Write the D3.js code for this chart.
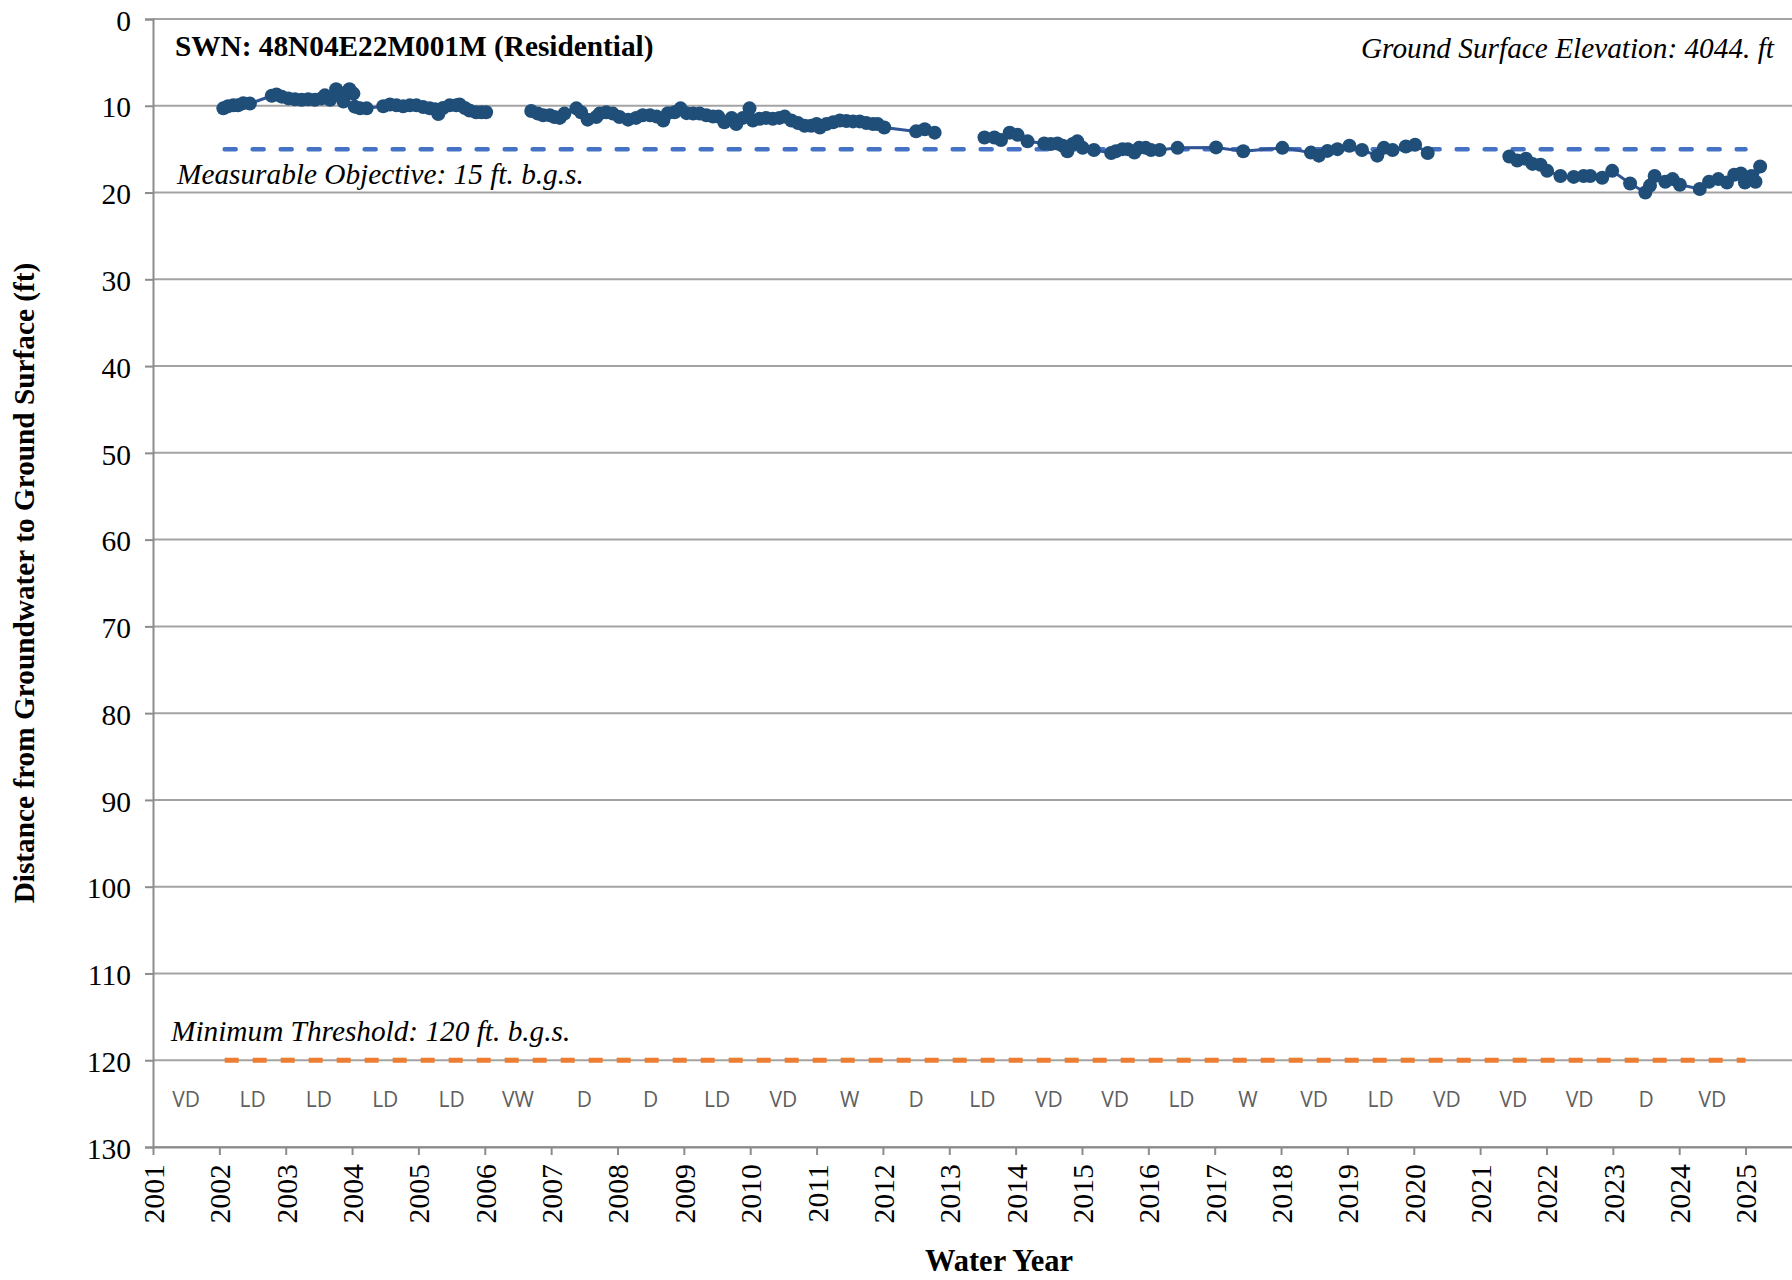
<!DOCTYPE html>
<html>
<head>
<meta charset="utf-8">
<script src="https://cdn.jsdelivr.net/npm/d3@7"></script>
<style>
  body { margin: 0; background: #fff; }
  svg { display: block; }
</style>
</head>
<body>
<svg id="chart"></svg>
<script>
// ---- data ----
const wellName = "SWN: 48N04E22M001M (Residential)"
const elevationNote = "Ground Surface Elevation: 4044. ft"
const moValue = 15
const mtValue = 120
const thresholdStart = 2002.08
const thresholdEnd = 2025.0

const yearTicks = [2001,2002,2003,2004,2005,2006,2007,2008,2009,2010,2011,2012,2013,2014,2015,2016,2017,2018,2019,2020,2021,2022,2023,2024,2025]
const depthTicks = [0,10,20,30,40,50,60,70,80,90,100,110,120,130]

// water year types, one per year starting 2001
const yearTypes = ["VD","LD","LD","LD","LD","VW","D","D","LD","VD","W","D","LD","VD","VD","LD","W","VD","LD","VD","VD","VD","D","VD"]

// measurement dates (decimal year) and depth to water (ft); null = gap in record
const obsYear = [
  2002.06,2002.13,2002.21,2002.28,2002.36,2002.46,2002.79,2002.86,2002.94,2003.04,
  2003.14,2003.24,2003.34,2003.44,2003.54,2003.59,2003.67,2003.76,2003.82,2003.87,
  2003.96,2004.02,2004.04,2004.12,2004.22,2004.47,2004.57,2004.67,2004.77,2004.87,
  2004.97,2005.07,2005.17,2005.25,2005.30,2005.37,2005.47,2005.57,2005.62,2005.70,
  2005.77,2005.87,2005.95,2006.02,2006.40,
  2006.70,2006.80,2006.88,2006.98,2007.05,2007.13,2007.20,2007.38,2007.45,2007.55,
  2007.68,2007.73,2007.83,2007.93,2008.03,2008.16,2008.28,2008.38,2008.49,2008.59,
  2008.69,2008.76,2008.86,2008.95,2009.04,2009.14,2009.24,2009.34,2009.44,2009.52,
  2009.61,2009.72,2009.79,2009.89,2009.99,2010.04,2010.14,2010.24,2010.34,2010.44,
  2010.52,2010.62,2010.72,2010.82,2010.92,2011.00,2011.05,2011.15,2011.25,2011.35,
  2011.45,2011.55,2011.65,2011.75,2011.85,2011.92,2012.02,2012.50,2012.63,2012.78,
  2013.10,
  2013.53,2013.68,2013.78,2013.91,2014.03,2014.18,2014.43,2014.53,2014.63,2014.71,
  2014.78,2014.86,2014.93,2015.01,2015.18,2015.44,2015.51,2015.61,2015.69,2015.79,
  2015.86,2015.96,2016.04,2016.17,2016.44,2017.02,2017.43,2018.02,2018.45,2018.57,
  2018.70,2018.85,2019.03,2019.22,2019.45,2019.55,2019.68,2019.88,2020.02,2020.21,
  2020.80,
  2021.44,2021.56,2021.69,2021.79,2021.91,2022.01,2022.21,2022.41,2022.56,2022.66,
  2022.84,2022.99,2023.26,2023.49,2023.56,2023.63,2023.79,2023.90,2024.01,2024.31,
  2024.45,2024.59,2024.72,2024.83,2024.93,2024.99,2025.09,2025.15,2025.22
]
const obsDepth = [
  10.3,10.05,9.95,9.95,9.7,9.75,8.85,8.7,8.95,9.15,
  9.25,9.3,9.25,9.3,9.15,8.8,9.3,8.1,8.65,9.5,
  8.1,8.6,10.1,10.3,10.3,10.05,9.85,9.95,10.05,9.95,
  9.95,10.15,10.3,10.4,10.95,10.25,9.95,9.95,9.85,10.25,
  10.55,10.75,10.75,10.75,null,
  10.6,10.9,11.1,11.1,11.3,11.4,10.9,10.3,10.75,11.6,
  11.3,10.9,10.75,10.9,11.3,11.6,11.4,11.1,11.1,11.25,
  11.7,10.85,10.75,10.3,10.85,10.9,10.9,11.1,11.25,11.25,
  11.9,11.4,12.1,11.4,10.3,11.7,11.5,11.4,11.5,11.4,
  11.25,11.7,12.0,12.3,12.3,12.1,12.5,12.1,11.9,11.7,
  11.75,11.8,11.8,12.0,12.1,12.1,12.5,12.95,12.7,13.1,
  null,
  13.65,13.65,13.95,13.1,13.35,14.1,14.35,14.4,14.35,14.6,
  15.25,14.4,14.1,14.85,15.1,15.45,15.25,15.0,15.0,15.4,
  14.85,14.85,15.1,15.1,14.85,14.8,15.25,14.85,15.4,15.75,
  15.2,15.0,14.6,15.1,15.75,14.85,15.1,14.7,14.5,15.45,
  null,
  15.85,16.3,16.1,16.7,16.8,17.5,18.1,18.2,18.1,18.1,
  18.3,17.5,18.95,20.0,19.2,18.1,18.75,18.45,19.1,19.6,
  18.75,18.45,18.85,17.95,17.8,18.85,18.1,18.75,17.0
]

// ---- layout ----
const width = 1792
const height = 1280
const margin = ({ top: 19, right: 0, left: 153, bottom: 133 })
const serif = "'Liberation Serif', 'Times New Roman', serif"
const fs = 29.3

const svg = d3.select('#chart')
    .attr('width', width)
    .attr('height', height)
    .attr('viewBox', [0, 0, width, height])

const x = d3.scaleLinear()
    .domain([2001, 2025.7])
    .range([margin.left, width - margin.right])

const y = d3.scaleLinear()
    .domain([0, 130])
    .range([margin.top, height - margin.bottom])

// horizontal gridlines
svg.append('g')
    .selectAll('line')
    .data(depthTicks)
    .join('line')
    .attr('x1', x(2001))
    .attr('x2', width)
    .attr('y1', d => y(d))
    .attr('y2', d => y(d))
    .attr('stroke', '#a3a3a3')
    .attr('stroke-width', 2)

// y axis
svg.append('g')
    .attr('transform', `translate(${x(2001)},0)`)
    .call(d3.axisLeft(y).tickValues(depthTicks).tickSize(8).tickPadding(14))
    .call(g => g.select('.domain').attr('stroke', '#8c8c8c').attr('stroke-width', 2))
    .call(g => g.selectAll('.tick line').attr('stroke', '#8c8c8c').attr('stroke-width', 2))
    .call(g => g.selectAll('text')
        .attr('font-family', serif)
        .attr('font-size', 29.5)
        .attr('fill', '#000')
        .attr('dy', '0.38em'))

// x axis
svg.append('g')
    .attr('transform', `translate(0,${y(130)})`)
    .call(d3.axisBottom(x).tickValues(yearTicks).tickFormat(d3.format('d')).tickSize(8).tickSizeOuter(0))
    .call(g => g.select('.domain').attr('stroke', '#8c8c8c').attr('stroke-width', 2))
    .call(g => g.selectAll('.tick line').attr('stroke', '#8c8c8c').attr('stroke-width', 2))
    .call(g => g.selectAll('text')
        .attr('font-family', serif)
        .attr('font-size', 29.8)
        .attr('fill', '#000')
        .attr('transform', 'rotate(-90)')
        .attr('text-anchor', 'end')
        .attr('x', -17)
        .attr('y', 0)
        .attr('dy', '0.35em'))

// axis titles
svg.append('text')
    .attr('x', 999)
    .attr('y', 1271)
    .attr('text-anchor', 'middle')
    .attr('font-family', serif)
    .attr('font-weight', 'bold')
    .attr('font-size', 30.5)
    .text('Water Year')

svg.append('text')
    .attr('transform', 'translate(34,583) rotate(-90)')
    .attr('text-anchor', 'middle')
    .attr('font-family', serif)
    .attr('font-weight', 'bold')
    .attr('font-size', fs)
    .text('Distance from Groundwater to Ground Surface (ft)')

// water year type labels
svg.append('g')
    .selectAll('text')
    .data(yearTypes)
    .join('text')
    .attr('x', (d, i) => x(2001 + i + 0.5))
    .attr('y', y(124.6))
    .attr('dy', '0.35em')
    .attr('text-anchor', 'middle')
    .attr('font-family', "'Open Sans', sans-serif")
    .attr('font-size', 21)
    .attr('fill', '#5f5f5f')
    .text(d => d)

// measurable objective & minimum threshold
svg.append('line')
    .attr('x1', x(thresholdStart)).attr('x2', x(thresholdEnd))
    .attr('y1', y(moValue)).attr('y2', y(moValue))
    .attr('stroke', '#4472c4')
    .attr('stroke-width', 4.5)
    .attr('stroke-linecap', 'round')
    .attr('stroke-dasharray', '11,17')

svg.append('line')
    .attr('x1', x(thresholdStart)).attr('x2', x(thresholdEnd))
    .attr('y1', y(mtValue)).attr('y2', y(mtValue))
    .attr('stroke', '#ed7d31')
    .attr('stroke-width', 5)
    .attr('stroke-dasharray', '14,14')

svg.append('text')
    .attr('x', 177)
    .attr('y', y(moValue) + 35)
    .attr('font-family', serif)
    .attr('font-style', 'italic')
    .attr('font-size', fs)
    .text(`Measurable Objective: ${moValue} ft. b.g.s.`)

svg.append('text')
    .attr('x', 171)
    .attr('y', y(mtValue) - 19)
    .attr('font-family', serif)
    .attr('font-style', 'italic')
    .attr('font-size', fs)
    .text(`Minimum Threshold: ${mtValue} ft. b.g.s.`)

// header texts
svg.append('text')
    .attr('x', 175)
    .attr('y', 56)
    .attr('font-family', serif)
    .attr('font-weight', 'bold')
    .attr('font-size', fs)
    .text(wellName)

svg.append('text')
    .attr('x', 1774)
    .attr('y', 58)
    .attr('text-anchor', 'end')
    .attr('font-family', serif)
    .attr('font-style', 'italic')
    .attr('font-size', fs)
    .text(elevationNote)

// groundwater level series
const obs = obsYear.map((t, i) => ({ t: t, v: obsDepth[i] }))

const line = d3.line()
    .defined(d => d.v !== null)
    .x(d => x(d.t))
    .y(d => y(d.v))

svg.append('path')
    .datum(obs)
    .attr('fill', 'none')
    .attr('stroke', '#2f5597')
    .attr('stroke-width', 3)
    .attr('d', line)

svg.append('g')
    .attr('fill', '#1f4e79')
    .selectAll('circle')
    .data(obs.filter(d => d.v !== null))
    .join('circle')
    .attr('cx', d => x(d.t))
    .attr('cy', d => y(d.v))
    .attr('r', 7)
</script>
</body>
</html>
